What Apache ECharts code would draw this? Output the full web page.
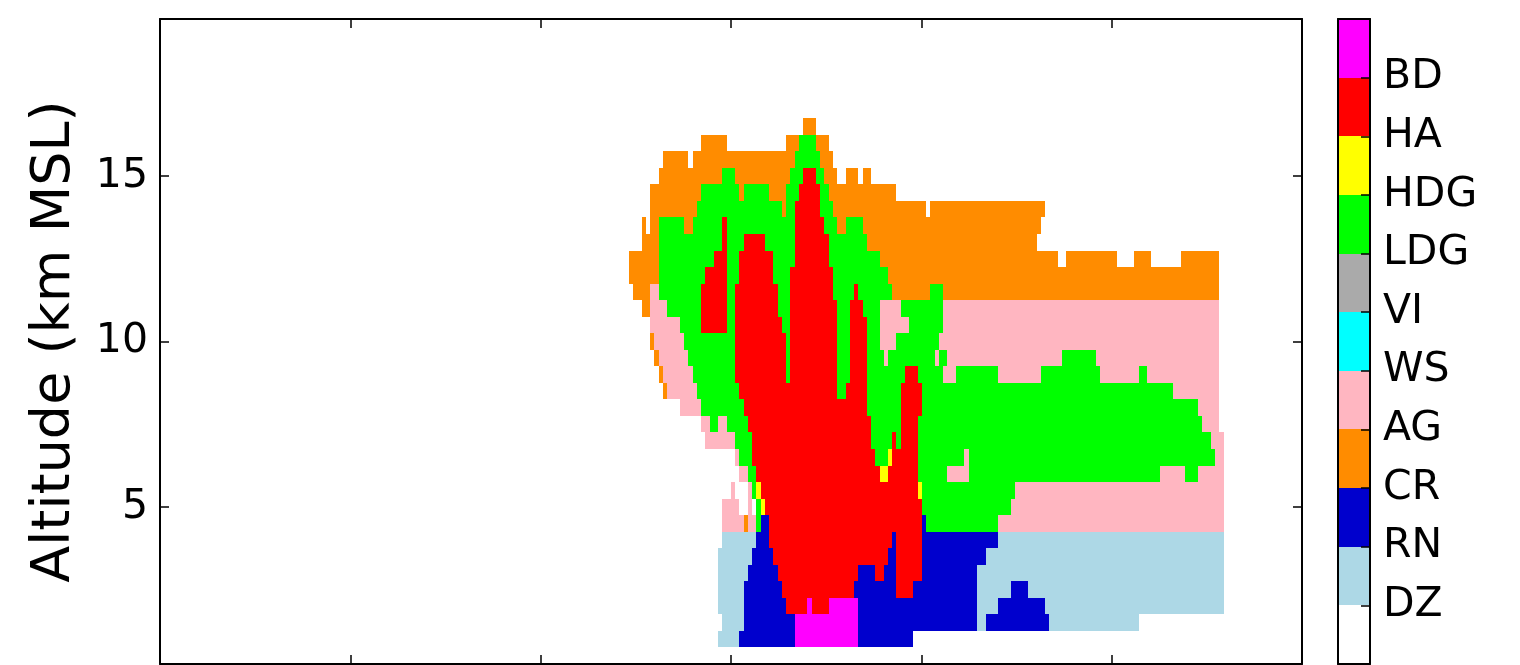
<!DOCTYPE html>
<html>
<head>
<meta charset="utf-8">
<script src="https://cdn.jsdelivr.net/npm/echarts@6/dist/echarts.min.js"></script>
<style>
  html, body { margin: 0; padding: 0; background: #ffffff; }
  #chart { width: 1520px; height: 665px; }
</style>
</head>
<body>
<div id="chart"></div>
<script>
// Hydrometeor classes, listed from the bottom of the colour bar upwards (0 = unclassified)
const classNames  = ['', 'DZ', 'RN', 'CR', 'AG', 'WS', 'VI', 'LDG', 'HDG', 'HA', 'BD'];
const classCodes  = ['.', 'D', 'R', 'C', 'A', 'W', 'V', 'G', 'Y', 'H', 'B'];
const classColors = ['#ffffff', '#add8e6', '#0000cd', '#ff8c00', '#ffb6c1', '#00ffff',
                     '#aaaaaa', '#00ff00', '#ffff00', '#ff0000', '#ff00ff'];

// Cross-section grid: horizontal range of column 0 and column spacing (km), vertical spacing (km)
const rangeStart = 24.628;
const rangeStep = 0.22329;
const altitudeStep = 0.5;

// Altitude of each grid row (km MSL), top to bottom
const altitudes = [16.5, 16.0, 15.5, 15.0, 14.5, 14.0, 13.5, 13.0, 12.5, 12.0, 11.5, 11.0,
                   10.5, 10.0, 9.5, 9.0, 8.5, 8.0, 7.5, 7.0, 6.5, 6.0, 5.5, 5.0,
                   4.5, 4.0, 3.5, 3.0, 2.5, 2.0, 1.5, 1.0];

// Class of every column along each row, as runs "<code><firstColumn>-<lastColumn>"
const rowRuns = [
  'C41-43',
  'C17-22 C37-39 G40-43 C44-46',
  'C8-13 C15-38 G39-44 C45-47',
  'C7-21 G22-24 C25-37 G38-40 H41-43 G44-45 C46-48 C51-53 C55-56',
  'C5-16 G17-25 C26 G27-32 C33-36 G37-39 H40-44 G45-46 C47-62',
  'C5-15 G16-35 C36 G37-38 H39-44 G45-47 C48-69 C71-97',
  'C3 C5-6 G7-12 C13-14 G15-21 H22 G23-38 H39-45 G46-48 C49-50 G51-54 C55-96',
  'C3-6 G7-21 H22 G23-26 H27-31 G32-38 H39-46 G47-55 C56-95',
  'C0-6 G7-19 H20-22 G23-25 H26-33 G34-38 H39-46 G47-58 C59-100 C103-114 C119-122 C130-138',
  'C0-6 G7-17 H18-22 G23-25 H26-33 G34-37 H38-47 G48-60 C61-138',
  'C1-4 A5-6 G7-16 H17-22 G23-24 H25-34 G35-37 H38-47 G48-52 H53 G54-61 C62-70 G71-73 C74-138',
  'C3-4 A5-8 G9-16 H17-22 G23-24 H25-34 G35-37 H38-48 G49-51 H52-54 G55-58 A59-63 G64-73 A74-138',
  'A5-11 G12-16 H17-22 G23-24 H25-35 G36-37 H38-48 G49-51 H52-55 G56-58 A59-65 G66-73 A74-138',
  'C5 A6-12 G13-24 H25-36 G37 H38-48 G49-51 H52-55 G56-58 A59-62 G63-72 A73-138',
  'C6 A7-13 G14-24 H25-36 G37 H38-48 G49-51 H52-55 G56-59 A60 G61-71 A72 G73-74 A75-101 G102-109 A110-138',
  'C7 A8-14 G15-24 H25-36 G37 H38-48 G49-51 H52-55 G56-64 H65-67 G68-73 A74-76 G77-86 A87-96 G97-110 A111-119 G120-121 A122-138',
  'C8 A9-15 G16-25 H26-48 G49-50 H51-55 G56-63 H64-68 G69-127 A128-138',
  'A12-16 G17-26 H27-55 G56-63 H64-68 G69-133 A134-138',
  'A17-18 G19-20 A21-22 G23-27 H28-56 G57-63 H64-67 G68-134 A135-138',
  'A18-24 G25-28 H29-56 G57-61 H62 G63 H64-67 G68-136 A137-139',
  'A25 G26-28 H29-57 G58-60 Y61 H62-67 G68-78 A79 G80-137 A138-139',
  'A26-27 G28-29 H30-58 Y59-60 H61-67 G68-74 A75-79 G80-124 A125-130 G131-133 A134-139',
  'A24 A28 G29 Y30 H31-67 Y68 G69-90 A91-139',
  'A22-25 A28 G30 Y31 H32-68 G69-89 A90-139',
  'A22-26 C27 A28-29 G30 R31-32 H33-68 R69 G70-86 A87-139',
  'D22-29 R30-32 H33-61 R62 H63-68 R69-86 D87-139',
  'D21-28 R29-33 H34-60 R61-62 H63-68 R69-83 D84-139',
  'D21-27 R28-34 H35-53 R54-57 H58-59 R60-62 H63-68 R69-81 D82-139',
  'D21-26 R27-35 H36-52 R53-62 H63-66 R67-81 D82-89 R90-93 D94-139',
  'D21-26 R27-36 H37-41 B42 H43-46 B47-53 R54-81 D82-86 R87-97 D98-139',
  'D22-26 R27-38 B39-53 R54-81 D82-83 R84-98 D99-119',
  'D21-25 R26-38 B39-53 R54-66'
];

// Axis ticks
const altitudeTicks = [5, 10, 15];
const colorbarTicks = [1, 2, 3, 4, 5, 6, 7, 8, 9, 10];

// Expand the runs into rectangles: [x0, x1, y0, y1, class]
const cells = [];
altitudes.forEach((alt, r) => {
  rowRuns[r].split(/\s+/).filter(Boolean).forEach(tok => {
    const m = tok.match(/^([A-Z.])(\d+)(?:-(\d+))?$/);
    const cls = classCodes.indexOf(m[1]);
    const c0 = +m[2];
    const c1 = m[3] !== undefined ? +m[3] : c0;
    cells.push([
      rangeStart + c0 * rangeStep,
      rangeStart + (c1 + 1) * rangeStep,
      alt - altitudeStep / 2,
      alt + altitudeStep / 2,
      cls
    ]);
  });
});

const colorbarCells = classColors.map((c, i) => [0, 1, i, i + 1, i]);

function rectItem(params, api) {
  const a = api.coord([api.value(0), api.value(3)]);
  const b = api.coord([api.value(1), api.value(2)]);
  const x0 = Math.round(a[0]), y0 = Math.round(a[1]);
  const x1 = Math.round(b[0]), y1 = Math.round(b[1]);
  return {
    type: 'rect',
    shape: { x: x0, y: y0, width: x1 - x0, height: y1 - y0 },
    style: { fill: classColors[api.value(4)] }
  };
}

const FONT = 'DejaVu Sans';
const frameLine = { show: true, onZero: false, lineStyle: { color: '#000', width: 2 } };
const innerTick = { show: true, inside: true, length: 9, lineStyle: { color: '#000', width: 1.5 } };

const chart = echarts.init(document.getElementById('chart'), null, { renderer: 'canvas' });
chart.setOption({
  animation: false,
  backgroundColor: '#ffffff',
  grid: [
    { left: 160, top: 19, width: 1142, height: 645 },
    { left: 1338, top: 19, width: 32, height: 645 }
  ],
  xAxis: [
    { gridIndex: 0, type: 'value', min: 0, max: 60, interval: 10, position: 'bottom', z: 10,
      axisLine: frameLine, axisTick: innerTick, axisLabel: { show: false }, splitLine: { show: false } },
    { gridIndex: 0, type: 'value', min: 0, max: 60, interval: 10, position: 'top', z: 10,
      axisLine: frameLine, axisTick: innerTick, axisLabel: { show: false }, splitLine: { show: false } },
    { gridIndex: 1, type: 'value', min: 0, max: 1, position: 'bottom', z: 10,
      axisLine: frameLine, axisTick: { show: false }, axisLabel: { show: false }, splitLine: { show: false } },
    { gridIndex: 1, type: 'value', min: 0, max: 1, position: 'top', z: 10,
      axisLine: frameLine, axisTick: { show: false }, axisLabel: { show: false }, splitLine: { show: false } }
  ],
  yAxis: [
    { gridIndex: 0, type: 'value', min: 0.25, max: 19.75, position: 'left', z: 10,
      name: 'Altitude (km MSL)', nameLocation: 'middle', nameGap: 78,
      nameTextStyle: { fontFamily: FONT, fontSize: 54, color: '#000' },
      axisLine: frameLine,
      axisTick: Object.assign({}, innerTick, { customValues: altitudeTicks }),
      axisLabel: { customValues: altitudeTicks, fontFamily: FONT, fontSize: 41, color: '#000', margin: 12 },
      splitLine: { show: false } },
    { gridIndex: 0, type: 'value', min: 0.25, max: 19.75, position: 'right', z: 10,
      axisLine: frameLine,
      axisTick: Object.assign({}, innerTick, { customValues: altitudeTicks }),
      axisLabel: { show: false }, splitLine: { show: false } },
    { gridIndex: 1, type: 'value', min: 0, max: 11, position: 'left', z: 10,
      axisLine: frameLine, axisTick: { show: false }, axisLabel: { show: false }, splitLine: { show: false } },
    { gridIndex: 1, type: 'value', min: 0, max: 11, position: 'right', z: 10,
      axisLine: frameLine,
      axisTick: { show: true, inside: true, length: 9, customValues: colorbarTicks, lineStyle: { color: '#000', width: 1.5 } },
      axisLabel: { customValues: colorbarTicks, formatter: v => classNames[v], fontFamily: FONT, fontSize: 41, color: '#000', margin: 13 },
      splitLine: { show: false } }
  ],
  series: [
    { type: 'custom', xAxisIndex: 0, yAxisIndex: 0, renderItem: rectItem,
      encode: { x: [0, 1], y: [2, 3] }, data: cells, silent: true },
    { type: 'custom', xAxisIndex: 2, yAxisIndex: 2, renderItem: rectItem,
      encode: { x: [0, 1], y: [2, 3] }, data: colorbarCells, silent: true }
  ]
});
</script>
</body>
</html>
